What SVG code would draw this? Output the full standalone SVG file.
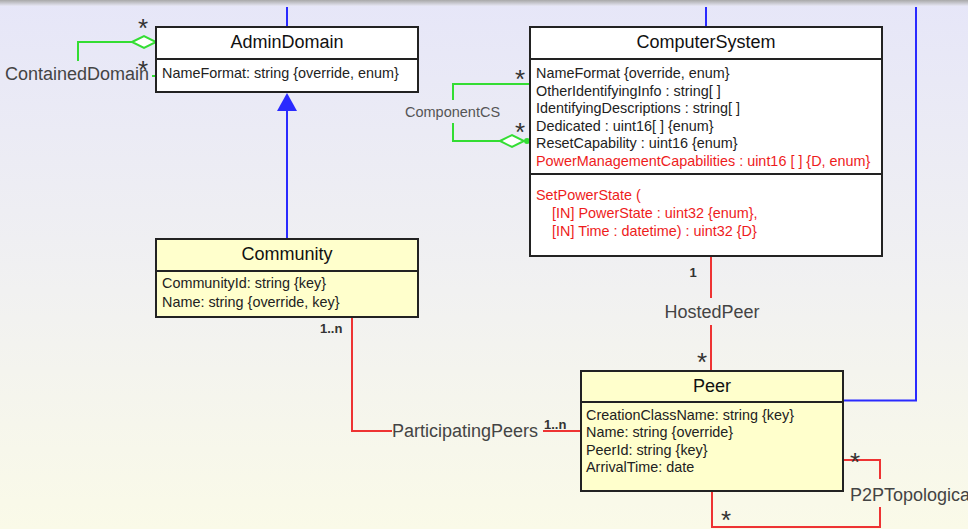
<svg xmlns="http://www.w3.org/2000/svg" width="968" height="529" viewBox="0 0 968 529">
<defs>
<linearGradient id="bg" x1="0" y1="0" x2="0" y2="1">
<stop offset="0" stop-color="#e6e6f8"/>
<stop offset="0.55" stop-color="#f1f1f1"/>
<stop offset="1" stop-color="#fafae8"/>
</linearGradient>
<linearGradient id="bar" x1="0" y1="0" x2="0" y2="1">
<stop offset="0" stop-color="#a8a8a8"/>
<stop offset="1" stop-color="#e6e6f4"/>
</linearGradient>
</defs>
<style>
.box{stroke:#222;stroke-width:2}
.w{fill:#fff}
.y{fill:#ffffcc}
.dv{stroke:#222;stroke-width:2}
text{font-family:"Liberation Sans",Arial,sans-serif}
.t{font-size:18px;fill:#111;text-anchor:middle}
.a{font-size:14.4px;fill:#222}
.r{fill:#ee1c1c}
.lbl{font-size:18px;fill:#444}
.lbls{font-size:14.5px;fill:#555}
.m{font-size:13px;font-weight:bold;fill:#333}
.st{font-size:26px;fill:#333}
.blue{stroke:#2a2aff;stroke-width:2;fill:none}
.green{stroke:#33dd33;stroke-width:2;fill:none}
.red{stroke:#ee3333;stroke-width:2;fill:none}
</style>
<rect x="0" y="0" width="968" height="529" fill="url(#bg)"/>
<rect x="0" y="0" width="968" height="6" fill="url(#bar)"/>

<g id="connectors">
<!-- generalizations -->
<path class="blue" d="M287,7 V27"/>
<path class="blue" d="M706,7 V27"/>
<path class="blue" d="M916,7 V400.5 H843"/>
<path class="blue" d="M287,110 V239"/>
<polygon points="287,93 277,111 297,111" fill="#2a2aff"/>
<!-- ContainedDomain -->
<path class="green" d="M78,61 V42 H132"/>
<polygon points="132,42 144,36 156,42 144,48" fill="#fff" stroke="#33dd33" stroke-width="2"/>
<path class="green" d="M152,76 H156"/>
<!-- ComponentCS -->
<path class="green" d="M530,84 H453 V100"/>
<path class="green" d="M453,123 V141 H500"/>
<polygon points="500,141 512,135 524,141 512,147" fill="#fff" stroke="#33dd33" stroke-width="2"/>
<circle cx="527" cy="141" r="3" fill="#33dd33"/>
<!-- HostedPeer -->
<path class="red" d="M711,256 V298"/>
<path class="red" d="M711,325 V371"/>
<!-- ParticipatingPeers -->
<path class="red" d="M352,317 V431 H392"/>
<path class="red" d="M543,431 H581"/>
<!-- P2P -->
<path class="red" d="M843,460 H880 V479"/>
<path class="red" d="M880,507 V527 H712 V491"/>
</g>

<g id="labels">
<text class="st" x="143" y="37" text-anchor="middle">*</text>
<text class="st" x="143" y="79" text-anchor="middle">*</text>
<text class="lbl" x="5" y="80">ContainedDomain</text>
<text class="st" x="520" y="88" text-anchor="middle">*</text>
<text class="st" x="520" y="141" text-anchor="middle">*</text>
<text class="lbls" x="405" y="117">ComponentCS</text>
<text class="m" x="693" y="277" text-anchor="middle">1</text>
<text class="lbl" x="712" y="318" text-anchor="middle">HostedPeer</text>
<text class="st" x="702" y="371" text-anchor="middle">*</text>
<text class="m" x="320" y="333">1..n</text>
<text class="lbl" x="392" y="437">ParticipatingPeers</text>
<text class="m" x="544" y="429">1..n</text>
<text class="st" x="855" y="471" text-anchor="middle">*</text>
<text class="lbl" x="850" y="501">P2PTopologica</text>
<text class="st" x="726" y="529" text-anchor="middle">*</text>
</g>

<g id="AdminDomain">
<rect class="box w" x="156" y="27" width="262" height="65"/>
<line class="dv" x1="156" y1="59" x2="418" y2="59"/>
<text class="t" x="287" y="48">AdminDomain</text>
<text class="a" x="162" y="78">NameFormat: string {override, enum}</text>
</g>

<g id="ComputerSystem">
<rect class="box w" x="530" y="27" width="352" height="229"/>
<line class="dv" x1="530" y1="59" x2="882" y2="59"/>
<line class="dv" x1="530" y1="174" x2="882" y2="174"/>
<text class="t" x="706" y="48">ComputerSystem</text>
<text class="a" x="536" y="78">NameFormat {override, enum}</text>
<text class="a" x="536" y="96">OtherIdentifyingInfo : string[ ]</text>
<text class="a" x="536" y="113">IdentifyingDescriptions : string[ ]</text>
<text class="a" x="536" y="131">Dedicated : uint16[ ] {enum}</text>
<text class="a" x="536" y="148">ResetCapability : uint16 {enum}</text>
<text class="a r" x="536" y="166">PowerManagementCapabilities : uint16 [ ] {D, enum}</text>
<text class="a r" x="536" y="200">SetPowerState (</text>
<text class="a r" x="552" y="218">[IN] PowerState : uint32 {enum},</text>
<text class="a r" x="552" y="236">[IN] Time : datetime) : uint32 {D}</text>
</g>

<g id="Community">
<rect class="box y" x="156" y="239" width="262" height="78"/>
<line class="dv" x1="156" y1="271" x2="418" y2="271"/>
<text class="t" x="287" y="260">Community</text>
<text class="a" x="162" y="288">CommunityId: string {key}</text>
<text class="a" x="162" y="307">Name: string {override, key}</text>
</g>

<g id="Peer">
<rect class="box y" x="581" y="371" width="262" height="120"/>
<line class="dv" x1="581" y1="402" x2="843" y2="402"/>
<text class="t" x="712" y="392">Peer</text>
<text class="a" x="586" y="420">CreationClassName: string {key}</text>
<text class="a" x="586" y="437">Name: string {override}</text>
<text class="a" x="586" y="455">PeerId: string {key}</text>
<text class="a" x="586" y="472">ArrivalTime: date</text>
</g>
</svg>
